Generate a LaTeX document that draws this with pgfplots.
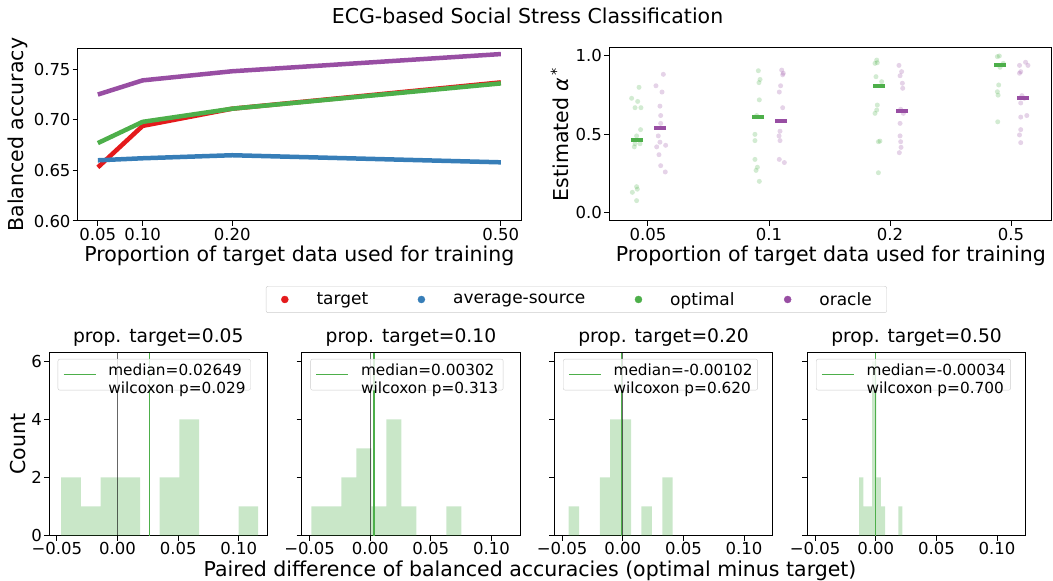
\documentclass[border=0pt]{standalone}
\usepackage{fontspec}
\setmainfont{DejaVu Sans}
\usepackage{pgfplots}
\usepackage{pgfplotstable}
\pgfplotsset{compat=1.18}

\definecolor{cred}{HTML}{E41A1C}
\definecolor{cblue}{HTML}{377EB8}
\definecolor{cgreen}{HTML}{4DAF4A}
\definecolor{cpurple}{HTML}{984EA3}

\newcommand{\tickfont}{\fontsize{16.5bp}{19bp}\selectfont}
\newcommand{\labfont}{\fontsize{20.5bp}{24bp}\selectfont}
\newcommand{\legfont}{\fontsize{17bp}{20bp}\selectfont}
\newcommand{\hlegfont}{\fontsize{15.3bp}{18bp}\selectfont}
\newcommand{\htitfont}{\fontsize{18.7bp}{22bp}\selectfont}

% strip plot points (x = category index + dodge offset)
\pgfplotstableread{
x y
-0.135 0.73
-0.074 0.80
-0.085 0.71
-0.107 0.67
-0.058 0.67
-0.061 0.53
-0.094 0.49
-0.107 0.44
-0.066 0.44
-0.113 0.42
-0.094 0.166
-0.088 0.15
-0.129 0.13
-0.094 0.077
0.912 0.906
0.926 0.85
0.917 0.83
0.920 0.72
0.898 0.62
0.884 0.50
0.884 0.46
0.884 0.34
0.904 0.29
0.893 0.27
0.920 0.20
1.890 0.974
1.876 0.953
1.895 0.957
1.884 0.868
1.931 0.836
1.895 0.687
1.890 0.655
1.876 0.634
1.904 0.453
1.917 0.457
1.904 0.255
2.903 1.0
2.887 0.996
2.936 0.953
2.909 0.928
2.898 0.815
2.887 0.772
2.893 0.75
2.890 0.58
}\optimalpts

\pgfplotstableread{
x y
0.127 0.883
0.066 0.81
0.116 0.77
0.099 0.68
0.105 0.62
0.105 0.57
0.085 0.49
0.099 0.45
0.072 0.42
0.146 0.43
0.091 0.37
0.105 0.30
0.143 0.26
1.105 0.91
1.118 0.89
1.113 0.88
1.096 0.81
1.085 0.77
1.113 0.67
1.091 0.52
1.083 0.49
1.091 0.46
1.085 0.34
1.127 0.32
2.074 0.94
2.096 0.90
2.083 0.874
2.102 0.826
2.105 0.794
2.088 0.66
2.110 0.634
2.083 0.57
2.083 0.49
2.088 0.453
2.091 0.417
2.077 0.383
3.12 0.96
3.14 0.94
3.07 0.94
3.08 0.90
3.07 0.89
3.09 0.747
3.11 0.73
3.08 0.70
3.08 0.61
3.08 0.53
3.07 0.496
3.08 0.447
3.13 0.62
}\oraclepts

\pgfplotsset{
  mpl/.style={
    scale only axis,
    anchor=south west,
    axis line style={line width=1bp},
    every tick/.style={line width=1bp, black},
    major tick length=5bp,
    tick align=outside,
    tick pos=left,
    tick label style={font=\tickfont},
    xticklabel style={inner sep=2bp},
    yticklabel style={inner sep=2bp},
    label style={font=\labfont},
    /pgf/number format/assume math mode=true,
    clip=true,
  },
  hist/.style={
    mpl,
    width=218.5bp, height=182.8bp,
    xmin=-0.0565, xmax=0.1237, ymin=0, ymax=6.3,
    xtick={-0.05,0,0.05,0.1},
    xticklabels={−0.05,0.00,0.05,0.10},
    ytick={0,2,4,6},
    title style={font=\htitfont, at={(axis description cs:0.5,1)}, anchor=base, yshift=4.4bp},
    legend style={at={(axis description cs:0.04,0.966)}, anchor=north west,
      draw=black!20, rounded corners=2bp, fill=white, fill opacity=0.8, text opacity=1,
      font=\hlegfont, inner xsep=5bp, inner ysep=4bp, nodes={inner sep=0bp},
      /tikz/column sep=12bp},
    legend cell align=left,
    legend image code/.code={\draw[cgreen, line width=1.4bp] (0bp,0bp) -- (32bp,0bp);},
  },
  hbar/.style={ybar interval, fill=cgreen, fill opacity=0.3, draw=none, forget plot},
  zline/.style={color=black, opacity=0.6, line width=0.9bp, forget plot},
  mline/.style={color=cgreen, line width=1.5bp},
}

\begin{document}
\begin{tikzpicture}
\useasboundingbox (0bp,0bp) rectangle (1053bp,581bp);

\node[font=\labfont, anchor=base] at (527.5bp,557bp) {ECG-based Social Stress Classification};

% ---- balanced accuracy vs proportion
\begin{axis}[mpl, at={(77.7bp,360bp)}, width=443.3bp, height=172.7bp,
  xmin=0.0275, xmax=0.5225, ymin=0.6, ymax=0.7707,
  xtick={0.05,0.1,0.2,0.5}, xticklabels={0.05,0.10,0.20,0.50},
  ytick={0.6,0.65,0.7,0.75}, yticklabels={0.60,0.65,0.70,0.75},
  xlabel={Proportion of target data used for training},
  ylabel={Balanced accuracy},
  xlabel style={at={(axis description cs:0.5,-0.2357)}, anchor=base},
  ylabel style={at={(axis description cs:-0.1347,0.5)}, anchor=center},
  legend columns=4,
  legend style={at={(axis description cs:1.125,-0.4545)}, anchor=center,
    draw=black!20, rounded corners=2bp, font=\legfont,
    inner xsep=15bp, inner ysep=6bp, nodes={inner sep=0bp},
    /tikz/every odd column/.append style={column sep=28bp},
    /tikz/every even column/.append style={column sep=49.5bp}},
  ]
\addlegendimage{legend image code/.code={\fill[cred] (0bp,0bp) circle (3.5bp);}}
\addlegendentry{target}
\addlegendimage{legend image code/.code={\fill[cblue] (0bp,0bp) circle (3.5bp);}}
\addlegendentry{average-source}
\addlegendimage{legend image code/.code={\fill[cgreen] (0bp,0bp) circle (3.5bp);}}
\addlegendentry{optimal}
\addlegendimage{legend image code/.code={\fill[cpurple] (0bp,0bp) circle (3.5bp);}}
\addlegendentry{oracle}
\addplot[cred, line width=4.5bp, line join=round, forget plot] coordinates {(0.05,0.653) (0.10,0.694) (0.20,0.711) (0.50,0.737)};
\addplot[cblue, line width=4.5bp, line join=round, forget plot] coordinates {(0.05,0.660) (0.10,0.662) (0.20,0.665) (0.50,0.658)};
\addplot[cgreen, line width=4.5bp, line join=round, forget plot] coordinates {(0.05,0.677) (0.10,0.698) (0.20,0.711) (0.50,0.736)};
\addplot[cpurple, line width=4.5bp, line join=round, forget plot] coordinates {(0.05,0.725) (0.10,0.739) (0.20,0.748) (0.50,0.765)};
\end{axis}

% ---- estimated alpha strip plot
\begin{axis}[mpl, at={(609bp,360bp)}, width=442.7bp, height=173bp,
  xmin=-0.322, xmax=3.336, ymin=-0.053, ymax=1.051,
  xtick={0,1,2,3}, xticklabels={0.05,0.1,0.2,0.5},
  ytick={0,0.5,1}, yticklabels={0.0,0.5,1.0},
  xlabel={Proportion of target data used for training},
  ylabel={Estimated \textit{α}\textsuperscript{\,*}},
  xlabel style={at={(axis description cs:0.501,-0.237)}, anchor=base},
  ylabel style={at={(axis description cs:-0.111,0.5)}, anchor=center},
  ]
\addplot[only marks, mark=*, mark size=2.5bp, color=cgreen, mark options={draw opacity=0, fill=cgreen, fill opacity=0.25}] table[x=x, y=y] {\optimalpts};
\addplot[only marks, mark=*, mark size=2.5bp, color=cpurple, mark options={draw opacity=0, fill=cpurple, fill opacity=0.25}] table[x=x, y=y] {\oraclepts};
\addplot[only marks, mark=-, mark size=6bp, color=cgreen, mark options={line width=4bp}] coordinates {(-0.09,0.464) (0.91,0.608) (1.91,0.81) (2.91,0.943)};
\addplot[only marks, mark=-, mark size=6bp, color=cpurple, mark options={line width=4bp}] coordinates {(0.1,0.538) (1.1,0.585) (2.1,0.651) (3.1,0.734)};
\end{axis}

% ---- histograms of paired differences
\begin{axis}[hist, at={(49bp,45.5bp)}, title={prop. target=0.05},
  yticklabels={0,2,4,6}, ylabel={Count},
  ylabel style={at={(axis description cs:-0.142,0.5)}, anchor=center}]
\addplot[hbar] coordinates {(-0.0464,2) (-0.0302,1) (-0.0139,2) (0.0023,2) (0.0186,0) (0.0348,2) (0.0511,4) (0.0673,0) (0.0836,0) (0.0998,1) (0.1160,0)};
\addplot[zline] coordinates {(0,0) (0,6.3)};
\addplot[mline] coordinates {(0.02649,0) (0.02649,6.3)};
\addlegendentry{\begin{tabular}{@{}l@{}}median=0.02649\\wilcoxon p=0.029\end{tabular}}
\end{axis}

\begin{axis}[hist, at={(301.7bp,45.5bp)}, title={prop. target=0.10}, yticklabels={}]
\addplot[hbar] coordinates {(-0.0485,1) (-0.0361,1) (-0.0238,2) (-0.0114,3) (0.0010,1) (0.0133,4) (0.0257,1) (0.0381,0) (0.0504,0) (0.0628,1) (0.0752,0)};
\addplot[zline] coordinates {(0,0) (0,6.3)};
\addplot[mline] coordinates {(0.00302,0) (0.00302,6.3)};
\addlegendentry{\begin{tabular}{@{}l@{}}median=0.00302\\wilcoxon p=0.313\end{tabular}}
\end{axis}

\begin{axis}[hist, at={(554.3bp,45.5bp)}, title={prop. target=0.20}, yticklabels={}]
\addplot[hbar] coordinates {(-0.0446,1) (-0.0361,0) (-0.0275,0) (-0.0190,2) (-0.0104,4) (-0.0017,4) (0.0069,0) (0.0154,1) (0.0240,0) (0.0326,2) (0.0411,0)};
\addplot[zline] coordinates {(0,0) (0,6.3)};
\addplot[mline] coordinates {(-0.00102,0) (-0.00102,6.3)};
\addlegendentry{\begin{tabular}{@{}l@{}}median=-0.00102\\wilcoxon p=0.620\end{tabular}}
\end{axis}

\begin{axis}[hist, at={(807.3bp,45.5bp)}, title={prop. target=0.50}, yticklabels={}]
\addplot[hbar] coordinates {(-0.0138,2) (-0.0102,1) (-0.0066,1) (-0.0030,6) (0.0005,2) (0.0041,1) (0.0077,0) (0.0113,0) (0.0149,0) (0.0185,1) (0.0220,0)};
\addplot[zline] coordinates {(0,0) (0,6.3)};
\addplot[mline] coordinates {(-0.00034,0) (-0.00034,6.3)};
\addlegendentry{\begin{tabular}{@{}l@{}}median=-0.00034\\wilcoxon p=0.700\end{tabular}}
\end{axis}

\node[font=\labfont, anchor=base] at (530bp,5bp) {Paired difference of balanced accuracies (optimal minus target)};
\end{tikzpicture}
\end{document}
